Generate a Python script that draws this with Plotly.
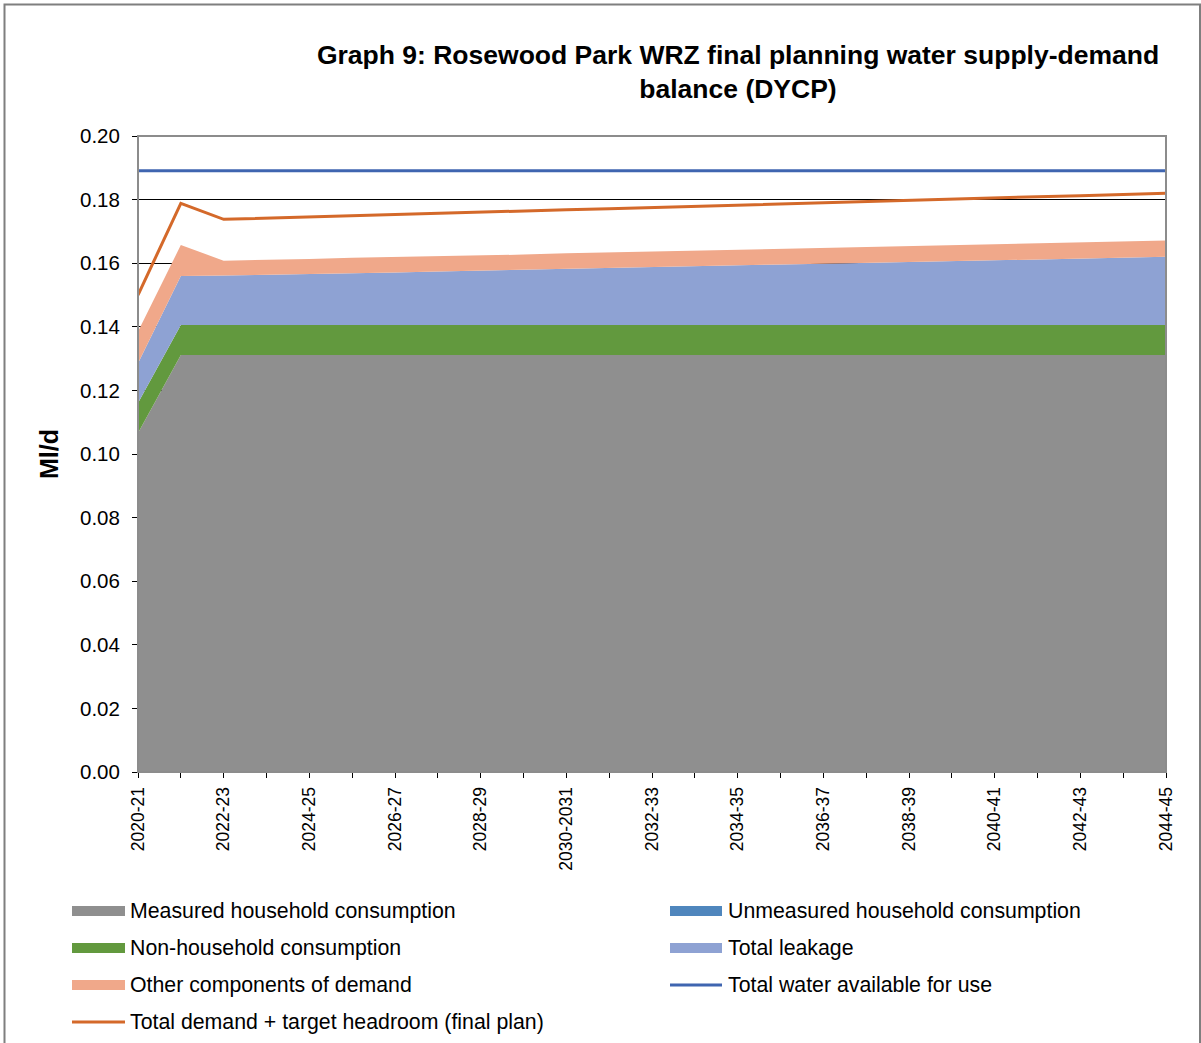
import plotly.graph_objects as go

# ---------------- data ----------------
years = ["2020-21", "2021-22", "2022-23", "2023-24", "2024-25", "2025-26", "2026-27",
         "2027-28", "2028-29", "2029-30", "2030-2031", "2031-32", "2032-33", "2033-34",
         "2034-35", "2035-36", "2036-37", "2037-38", "2038-39", "2039-40", "2040-41",
         "2041-42", "2042-43", "2043-44", "2044-45"]

measured_hh = [0.1066] + [0.1311] * 24
unmeasured_hh = [0.0] * 25
non_household = [0.0094] + [0.0095] * 24
total_leakage = [0.0125, 0.0154,
                 0.0155, 0.0157, 0.0160, 0.0163, 0.0165, 0.0168, 0.0171, 0.0173, 0.0176,
                 0.0179, 0.0182, 0.0184, 0.0187, 0.0190, 0.0192, 0.0195, 0.0198, 0.0200,
                 0.0203, 0.0206, 0.0208, 0.0211, 0.0214]
other_demand = [0.0100, 0.0097,
                0.0047, 0.0047, 0.0047, 0.0048, 0.0048, 0.0048, 0.0048, 0.0048, 0.0049,
                0.0049, 0.0049, 0.0049, 0.0049, 0.0050, 0.0050, 0.0050, 0.0050, 0.0050,
                0.0050, 0.0051, 0.0051, 0.0051, 0.0051]
water_available = [0.1891] * 25
demand_headroom = [0.1500, 0.1788,
                   0.1738, 0.1742, 0.1745, 0.1749, 0.1753, 0.1757, 0.1760, 0.1764, 0.1768,
                   0.1771, 0.1775, 0.1779, 0.1783, 0.1786, 0.1790, 0.1794, 0.1797, 0.1801,
                   0.1805, 0.1809, 0.1812, 0.1816, 0.1820]

y_ticks = [0.00, 0.02, 0.04, 0.06, 0.08, 0.10, 0.12, 0.14, 0.16, 0.18, 0.20]
x_tick_labels = [y if i % 2 == 0 else "" for i, y in enumerate(years)]

# ---------------- styling ----------------
FONT = "Liberation Sans, Arial, sans-serif"
C_MEAS = "#8F8F8F"
C_UNMEAS = "#4F86BD"
C_NHH = "#62993E"
C_LEAK = "#8EA2D3"
C_OTHER = "#F0A88A"
C_AVAIL = "#3F65B0"
C_DEMAND = "#D4692A"

W, H = 1201, 1043
L, R, T, B = 138, 1166, 136, 772

def px_x(px):
    return (px - L) / (R - L)

def px_y(py):
    return (B - py) / (B - T)

fig = go.Figure()

stack_series = [
    ("Measured household consumption", measured_hh, C_MEAS),
    ("Unmeasured household consumption", unmeasured_hh, C_UNMEAS),
    ("Non-household consumption", non_household, C_NHH),
    ("Total leakage", total_leakage, C_LEAK),
    ("Other components of demand", other_demand, C_OTHER),
]
for name, vals, col in stack_series:
    fig.add_trace(go.Scatter(
        x=years, y=vals, name=name, mode="lines", stackgroup="demand",
        line=dict(width=0, color=col), fillcolor=col, showlegend=False,
        hoverinfo="x+y+name"))

fig.add_trace(go.Scatter(x=years, y=water_available, name="Total water available for use",
                         mode="lines", line=dict(color=C_AVAIL, width=3), showlegend=False))
fig.add_trace(go.Scatter(x=years, y=demand_headroom, name="Total demand + target headroom (final plan)",
                         mode="lines", line=dict(color=C_DEMAND, width=3), showlegend=False))

shapes = []
annotations = []

# plot-area border (grey top/right)
shapes.append(dict(type="rect", xref="paper", yref="paper", x0=0, x1=1, y0=0, y1=1,
                   line=dict(color="#8C8C8C", width=2), layer="above"))
# outer figure border
shapes.append(dict(type="rect", xref="paper", yref="paper",
                   x0=px_x(4.5), x1=px_x(1200), y0=px_y(1060), y1=px_y(4.5),
                   line=dict(color="#7F7F7F", width=2), layer="above"))

# custom legend (two columns, row-major)
legend_items = [
    ("Measured household consumption", "area", C_MEAS),
    ("Unmeasured household consumption", "area", C_UNMEAS),
    ("Non-household consumption", "area", C_NHH),
    ("Total leakage", "area", C_LEAK),
    ("Other components of demand", "area", C_OTHER),
    ("Total water available for use", "line", C_AVAIL),
    ("Total demand + target headroom (final plan)", "line", C_DEMAND),
]
row_y = [911, 948, 985, 1022]
col_x = [(72, 125, 128), (670, 722, 726)]
for i, (name, kind, col) in enumerate(legend_items):
    r, c = divmod(i, 2)
    x0, x1, xt = col_x[c]
    yc = row_y[r]
    if kind == "area":
        shapes.append(dict(type="rect", xref="paper", yref="paper",
                           x0=px_x(x0), x1=px_x(x1), y0=px_y(yc + 5), y1=px_y(yc - 5),
                           fillcolor=col, line=dict(width=0)))
    else:
        shapes.append(dict(type="line", xref="paper", yref="paper",
                           x0=px_x(x0), x1=px_x(x1), y0=px_y(yc), y1=px_y(yc),
                           line=dict(color=col, width=3)))
    annotations.append(dict(text=name, xref="paper", yref="paper", x=px_x(xt), y=px_y(yc),
                            xanchor="left", yanchor="middle", showarrow=False,
                            font=dict(family=FONT, size=21.3, color="#000000")))

fig.update_layout(
    width=W, height=H,
    margin=dict(l=L, r=W - R, t=T, b=H - B, pad=0),
    paper_bgcolor="white", plot_bgcolor="white",
    font=dict(family=FONT, color="#000000"),
    title=dict(text="<b>Graph 9: Rosewood Park WRZ final planning water supply-demand<br>balance (DYCP)</b>",
               x=738 / W, xanchor="center",
               y=1 - 64 / H, yanchor="middle",
               font=dict(family=FONT, size=26.5, color="#000000")),
    showlegend=False,
    shapes=shapes,
    annotations=annotations,
)

fig.update_xaxes(
    type="category", range=[0, len(years) - 1],
    tickmode="array", tickvals=years, ticktext=x_tick_labels,
    tickangle=-90, ticks="outside", ticklen=5, tickcolor="#000000",
    tickfont=dict(family=FONT, size=17.5, color="#000000"),
    ticklabelstandoff=2,
    showline=True, linecolor="#000000", linewidth=1,
    showgrid=False, zeroline=False,
)
fig.update_yaxes(
    range=[0, 0.2], tickmode="array", tickvals=y_ticks,
    ticktext=[f"{v:.2f}" for v in y_ticks],
    ticks="outside", ticklen=5, tickcolor="#000000",
    tickfont=dict(family=FONT, size=20.5, color="#000000"),
    ticklabelstandoff=8,
    showline=True, linecolor="#000000", linewidth=1,
    showgrid=True, gridcolor="#000000", gridwidth=1, zeroline=False,
    title=dict(text="<b>Ml/d</b>", font=dict(family=FONT, size=25, color="#000000"), standoff=14),
)

fig.write_html("out.html")
